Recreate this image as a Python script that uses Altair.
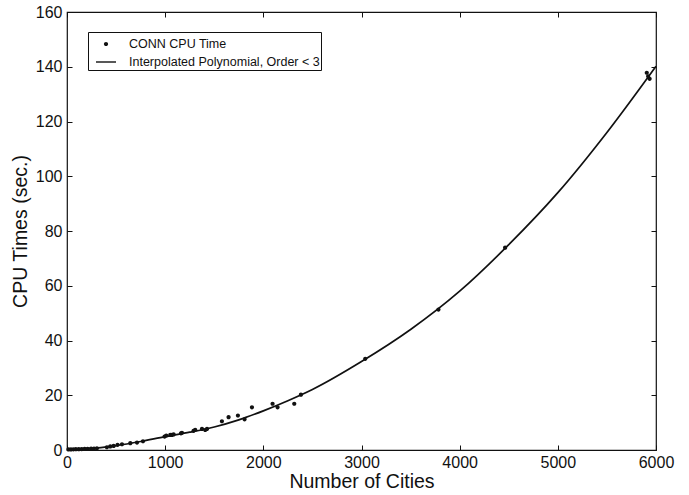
import altair as alt
import pandas as pd

# ---- data ----
series_names = ["CONN CPU Time", "Interpolated Polynomial, Order < 3"]

point_x = [15, 40, 65, 90, 120, 150, 180, 210, 245, 275, 305, 406, 441, 475, 515,
           560, 645, 713, 774, 994, 1011, 1052, 1069, 1086, 1161, 1171, 1289, 1306,
           1375, 1408, 1426, 1578, 1646, 1741, 1809, 1884, 2094, 2145, 2315, 2383,
           3038, 3784, 4463, 5906, 5920, 5935]
point_y = [0.2, 0.2, 0.25, 0.3, 0.3, 0.35, 0.4, 0.45, 0.5, 0.55, 0.6, 1.0, 1.3, 1.5, 1.9,
           2.1, 2.5, 2.7, 3.2, 4.9, 5.3, 5.5, 5.5, 5.7, 6.1, 6.3, 7.0, 7.4,
           7.7, 7.3, 7.7, 10.5, 12.0, 12.6, 11.2, 15.6, 16.9, 15.6, 16.9, 20.2,
           33.3, 51.3, 73.9, 137.8, 136.5, 135.6]

line_x = [0, 250, 500, 750, 1000, 1250, 1500, 1750, 2000, 2250, 2500, 3000,
          3500, 4000, 4500, 5000, 5500, 6000]
line_y = [0.4, 0.6, 1.6, 3.1, 4.9, 6.5, 8.4, 11.0, 14.3, 18.0, 22.1, 32.3,
          44.0, 58.0, 75.0, 94.0, 116.0, 140.2]

x_ticks = [0, 1000, 2000, 3000, 4000, 5000, 6000]
y_ticks = [0, 20, 40, 60, 80, 100, 120, 140, 160]

W, H = 589, 438
FONT = "Liberation Sans"
INK = "#111111"

pts = pd.DataFrame({"n": point_x, "t": point_y, "series": series_names[0]})
ln = pd.DataFrame({"n": line_x, "t": line_y})

DOT = "M-0.21,0A0.21,0.21,0,1,1,0.21,0A0.21,0.21,0,1,1,-0.21,0Z"
BAR = "M-1,-0.07L1,-0.07L1,0.07L-1,0.07Z"

x_enc = alt.X(
    "n:Q",
    scale=alt.Scale(domain=[0, 6000], nice=False, zero=False),
    axis=alt.Axis(values=x_ticks, title="Number of Cities", format="d",
                  ticks=False, domain=False, grid=True, labelFlush=False,
                  gridDash=[5, H - 10], gridColor=INK, gridOpacity=1, gridWidth=1,
                  labelPadding=4, titlePadding=2),
)
y_enc = alt.Y(
    "t:Q",
    scale=alt.Scale(domain=[0, 160], nice=False),
    axis=alt.Axis(values=y_ticks, title="CPU Times (sec.)", format="d",
                  ticks=False, domain=False, grid=True, labelFlush=False,
                  gridDash=[5, W - 10], gridColor=INK, gridOpacity=1, gridWidth=1,
                  labelPadding=5, titlePadding=5),
)

points = alt.Chart(pts).mark_point(filled=True, size=400, color=INK, opacity=1, strokeWidth=0).encode(
    x=x_enc,
    y=y_enc,
    shape=alt.Shape(
        "series:N",
        scale=alt.Scale(domain=series_names, range=[DOT, BAR]),
        legend=alt.Legend(
            title=None, orient="none", legendX=21, legendY=20,
            fillColor="white", strokeColor=INK, padding=1,
            symbolOffset=6, labelOffset=12, symbolSize=400, rowPadding=0,
            labelFont=FONT, labelFontSize=12.5, labelColor=INK, labelLimit=400,
            symbolFillColor=INK,
        ),
    ),
)

line = alt.Chart(ln).mark_line(color=INK, strokeWidth=1.7, interpolate="monotone").encode(
    x="n:Q", y="t:Q"
)

chart = (
    alt.layer(line, points)
    .properties(
        width=W, height=H,
        padding={"left": 67, "top": 12, "right": 33, "bottom": 45},
        autosize=alt.AutoSizeParams(type="none"),
        background="white",
    )
    .configure_view(stroke=INK, strokeWidth=1.2)
    .configure_axis(labelFont=FONT, labelFontSize=16, labelColor=INK,
                    titleFont=FONT, titleFontSize=19.5, titleFontWeight="normal",
                    titleColor=INK)
)

chart.save("out.html", embed_options={"renderer": "svg", "actions": False})
